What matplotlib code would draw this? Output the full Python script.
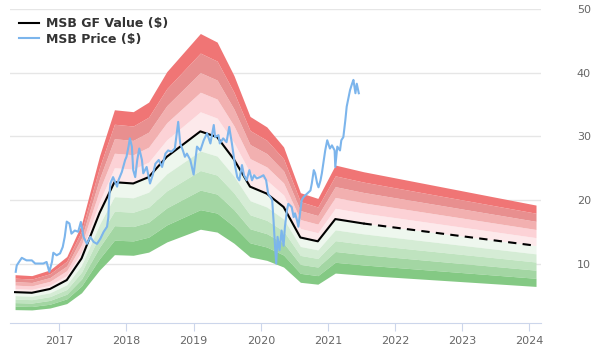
import matplotlib.pyplot as plt
import numpy as np

# GF value line (decimal years, $)
gf_dates = [2016.34, 2016.59, 2016.86, 2017.11, 2017.33, 2017.60, 2017.82, 2018.10,
            2018.33, 2018.60, 2019.10, 2019.35, 2019.60, 2019.84, 2020.09, 2020.34,
            2020.59, 2020.85, 2021.11, 2021.53, 2024.10]
gf_values = [5.5, 5.4, 6.0, 7.4, 10.8, 18.0, 22.8, 22.6,
             23.6, 26.8, 30.8, 29.9, 26.4, 22.1, 21.0, 18.9,
             14.1, 13.5, 17.0, 16.3, 12.8]
n_solid = 20  # points up to 2021.53 are drawn solid, the rest dashed

# MSB price
price_dates = [2016.35, 2016.365, 2016.44, 2016.51, 2016.59, 2016.64, 2016.71, 2016.76, 2016.81,
               2016.85, 2016.89, 2016.91, 2016.96, 2017.01, 2017.05, 2017.08, 2017.11,
               2017.15, 2017.18, 2017.23, 2017.28, 2017.32, 2017.36, 2017.41, 2017.46,
               2017.51, 2017.56, 2017.61, 2017.66, 2017.71, 2017.73, 2017.74, 2017.76,
               2017.80, 2017.86, 2017.88, 2017.93, 2017.98, 2018.00, 2018.03, 2018.05,
               2018.08, 2018.10, 2018.13, 2018.16, 2018.19, 2018.23, 2018.25, 2018.30,
               2018.35, 2018.39, 2018.43, 2018.48, 2018.53, 2018.58, 2018.62, 2018.67,
               2018.72, 2018.77, 2018.80, 2018.84, 2018.87, 2018.90, 2018.95, 2019.00,
               2019.05, 2019.10, 2019.15, 2019.20, 2019.25, 2019.30, 2019.32, 2019.37,
               2019.39, 2019.44, 2019.49, 2019.53, 2019.57, 2019.62, 2019.65, 2019.68,
               2019.72, 2019.75, 2019.79, 2019.83, 2019.87, 2019.90, 2019.94, 2019.99,
               2020.04, 2020.08, 2020.11, 2020.17, 2020.19, 2020.21, 2020.23, 2020.25,
               2020.28, 2020.31, 2020.34, 2020.36, 2020.39, 2020.41, 2020.46, 2020.49,
               2020.51, 2020.54, 2020.56, 2020.59, 2020.61, 2020.64, 2020.69, 2020.74,
               2020.76, 2020.79, 2020.81, 2020.84, 2020.86, 2020.89, 2020.91, 2020.94,
               2020.96, 2020.99, 2021.03, 2021.06, 2021.10, 2021.11, 2021.14, 2021.18,
               2021.20, 2021.23, 2021.26, 2021.28, 2021.31, 2021.33, 2021.36, 2021.38,
               2021.41, 2021.43, 2021.46]
price_values = [8.7, 9.7, 10.9, 10.5, 10.5, 10.0, 10.0, 10.0, 10.25,
                8.7, 10.25, 11.7, 11.3, 11.6, 12.6, 14.2, 16.6,
                16.3, 14.7, 15.2, 15.0, 16.55, 14.2, 13.1, 14.2,
                13.4, 13.1, 13.9, 15.0, 15.8, 17.3, 20.0, 22.6,
                23.6, 22.1, 23.1, 24.4, 26.3, 26.8, 28.4, 29.7,
                28.4, 24.7, 23.6, 26.3, 28.1, 26.3, 24.2, 25.2,
                22.6, 23.9, 25.7, 26.3, 25.2, 27.3, 27.8, 27.6,
                28.1, 32.3, 28.9, 27.8, 26.8, 27.3, 26.3, 24.0,
                28.4, 27.8, 29.4, 30.5, 28.9, 31.8, 29.9, 30.2,
                28.9, 29.7, 29.1, 31.5, 28.9, 25.2, 23.6, 23.1,
                25.5, 23.9, 23.1, 24.7, 23.1, 23.9, 23.4, 23.6,
                23.9, 23.1, 21.0, 20.0, 16.8, 13.15, 10.0, 14.2,
                12.1, 15.2, 12.8, 15.8, 18.4, 19.4, 18.9, 17.3,
                17.9, 16.8, 15.8, 18.4, 20.0, 20.5, 21.0, 21.5,
                22.6, 24.7, 24.2, 22.6, 22.0, 23.1, 24.2, 26.3,
                27.8, 29.4, 28.1, 28.6, 27.8, 25.2, 28.4, 27.8,
                29.4, 29.9, 32.6, 34.7, 36.3, 37.3, 38.3, 38.9,
                36.8, 38.3, 36.8]

band_steps = [0.1, 0.2, 0.3, 0.4, 0.5]
red_colors = ["#fde9eb", "#fcd2d6", "#f2b0b0", "#e88f8f", "#f07575"]
green_colors = ["#eef7ee", "#d5ecd5", "#bfe3bf", "#a3d6a3", "#84c984"]

gf_x = np.array(gf_dates)
gf_y = np.array(gf_values)

fig = plt.figure(figsize=(6, 3.6), dpi=100)
ax = fig.add_axes([0.0167, 0.102, 0.8845, 0.872])

prev = 0.0
for step, rc, gc in zip(band_steps, red_colors, green_colors):
    ax.fill_between(gf_x, gf_y * (1 + prev), gf_y * (1 + step), color=rc, lw=0, zorder=1)
    ax.fill_between(gf_x, gf_y * (1 - step), gf_y * (1 - prev), color=gc, lw=0, zorder=1)
    prev = step

ax.plot(gf_x[:n_solid], gf_y[:n_solid], color="black", lw=1.5, zorder=3, label="MSB GF Value ($)")
ax.plot(gf_x[n_solid - 1:], gf_y[n_solid - 1:], color="black", lw=1.5, ls=(0, (4, 3)), zorder=3)
ax.plot(price_dates, price_values, color="#7cb5ec", lw=1.5, zorder=4, label="MSB Price ($)")

ax.set_xlim(2016.265, 2024.17)
ax.set_ylim(0.6, 50)
ax.set_xticks(range(2017, 2025))
ax.set_yticks([10, 20, 30, 40, 50])
ax.yaxis.tick_right()
ax.grid(axis="y", color="#e6e6e6", lw=1, zorder=0)
ax.set_axisbelow(True)
for side in ["top", "left", "right"]:
    ax.spines[side].set_visible(False)
ax.spines["bottom"].set_color("#ccd6eb")
ax.tick_params(axis="x", colors="#666666", labelcolor="#666666", labelsize=8, length=6,
               color="#ccd6eb", pad=3)
ax.tick_params(axis="y", labelcolor="#666666", labelsize=8, length=0, pad=26)

leg = ax.legend(loc="upper left", frameon=False, prop={"weight": "bold", "size": 9},
                handlelength=1.6, handletextpad=0.6, labelspacing=0.2,
                bbox_to_anchor=(0.0, 1.003), borderaxespad=0.3)
for t in leg.get_texts():
    t.set_color("#333333")

fig.savefig("out.png")
